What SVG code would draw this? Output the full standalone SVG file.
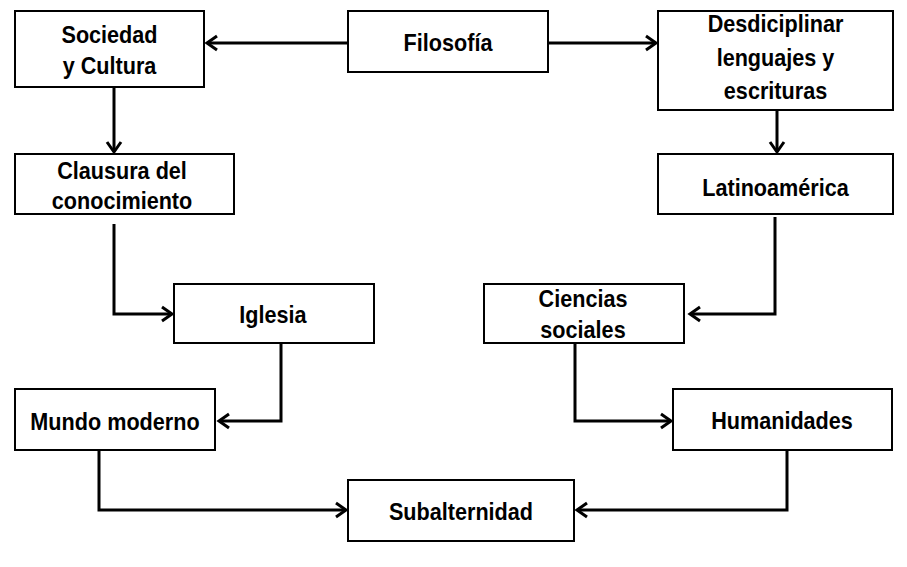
<svg xmlns="http://www.w3.org/2000/svg" width="907" height="567" viewBox="0 0 907 567">
<style>
.box{fill:#fff;stroke:#000;stroke-width:2}
.lbl{font-family:"Liberation Sans",Arial,sans-serif;font-weight:bold;font-size:23px;fill:#000;text-anchor:middle}
.con{fill:none;stroke:#000;stroke-width:3;marker-end:url(#arr)}
</style>
<defs>
<marker id="arr" markerUnits="userSpaceOnUse" markerWidth="16" markerHeight="18" viewBox="0 0 16 18" refX="13" refY="9" orient="auto">
<path d="M3,2 L13,9 L3,16" fill="none" stroke="#000" stroke-width="3"/>
</marker>
</defs>
<rect width="907" height="567" fill="#fff"/>
<g id="connectors">
<path class="con" d="M348,43 H207"/>
<path class="con" d="M548,43 H656"/>
<path class="con" d="M114,87 V152"/>
<path class="con" d="M777,110 V152"/>
<path class="con" d="M114,224 V314 H172"/>
<path class="con" d="M775,217 V314 H690"/>
<path class="con" d="M281,343 V421 H219"/>
<path class="con" d="M575,343 V421 H671"/>
<path class="con" d="M99,450 V510 H346"/>
<path class="con" d="M787,450 V510 H577"/>
</g>
<g id="filosofia">
<rect class="box" x="348" y="11" width="200" height="61"/>
<text class="lbl" transform="translate(448,51) scale(0.94,1)">Filosofía</text>
</g>
<g id="sociedad">
<rect class="box" x="15" y="11" width="189" height="76"/>
<text class="lbl" transform="translate(109.5,42.5) scale(0.94,1)">Sociedad</text>
<text class="lbl" transform="translate(109.5,74) scale(0.94,1)">y Cultura</text>
</g>
<g id="desdiciplinar">
<rect class="box" x="658" y="11" width="235" height="99"/>
<text class="lbl" transform="translate(775.5,32) scale(0.94,1)">Desdiciplinar</text>
<text class="lbl" transform="translate(775.5,66) scale(0.94,1)">lenguajes y</text>
<text class="lbl" transform="translate(775.5,99) scale(0.94,1)">escrituras</text>
</g>
<g id="clausura">
<rect class="box" x="15" y="154" width="219" height="60"/>
<text class="lbl" transform="translate(122,179) scale(0.94,1)">Clausura del</text>
<text class="lbl" transform="translate(122,209) scale(0.94,1)">conocimiento</text>
</g>
<g id="latinoamerica">
<rect class="box" x="658" y="154" width="235" height="60"/>
<text class="lbl" transform="translate(775.5,196) scale(0.94,1)">Latinoamérica</text>
</g>
<g id="iglesia">
<rect class="box" x="174" y="284" width="200" height="59"/>
<text class="lbl" transform="translate(273,323) scale(0.94,1)">Iglesia</text>
</g>
<g id="ciencias">
<rect class="box" x="484" y="284" width="200" height="59"/>
<text class="lbl" transform="translate(583,307) scale(0.94,1)">Ciencias</text>
<text class="lbl" transform="translate(583,338) scale(0.94,1)">sociales</text>
</g>
<g id="mundo">
<rect class="box" x="15" y="389" width="200" height="61"/>
<text class="lbl" transform="translate(115,430) scale(0.94,1)">Mundo moderno</text>
</g>
<g id="humanidades">
<rect class="box" x="673" y="389" width="219" height="61"/>
<text class="lbl" transform="translate(782,429) scale(0.94,1)">Humanidades</text>
</g>
<g id="subalternidad">
<rect class="box" x="348" y="480" width="226" height="61"/>
<text class="lbl" transform="translate(461,520) scale(0.94,1)">Subalternidad</text>
</g>
</svg>
